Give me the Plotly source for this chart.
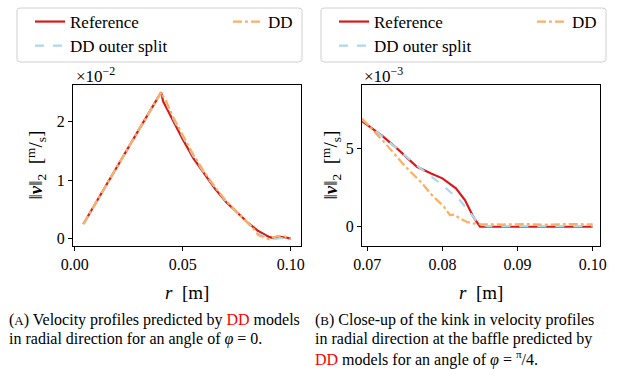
import plotly.graph_objects as go

# ---------------- data (velocity in units shown on axes) ----------------
# Panel A: phi = 0, velocity in 1e-2 m/s
r_ref_a = [0.004, 0.01, 0.02, 0.03, 0.04, 0.0405, 0.041, 0.042, 0.045, 0.05, 0.055, 0.06,
           0.065, 0.07, 0.075, 0.08, 0.085, 0.09, 0.092, 0.095, 0.098, 0.1]
v_ref_a = [0.25, 0.63, 1.25, 1.88, 2.50, 2.42, 2.34, 2.27, 2.05, 1.70, 1.37, 1.10,
           0.85, 0.63, 0.45, 0.28, 0.13, 0.03, 0.01, 0.03, 0.02, 0.0]

r_dd_a = [0.004, 0.01, 0.02, 0.03, 0.04, 0.0405, 0.042, 0.045, 0.05, 0.055, 0.06, 0.065,
          0.07, 0.075, 0.08, 0.083, 0.085, 0.088, 0.09, 0.092, 0.094, 0.097, 0.1]
v_dd_a = [0.25, 0.63, 1.25, 1.88, 2.50, 2.45, 2.38, 2.12, 1.77, 1.43, 1.14, 0.88,
          0.65, 0.46, 0.28, 0.16, 0.06, 0.01, -0.01, 0.02, 0.05, 0.04, 0.0]

r_dds_a = [0.004, 0.01, 0.02, 0.03, 0.04, 0.0405, 0.042, 0.045, 0.05, 0.055, 0.06, 0.065,
           0.07, 0.075, 0.08, 0.083, 0.085, 0.088, 0.09, 0.092, 0.095, 0.1]
v_dds_a = [0.25, 0.63, 1.25, 1.88, 2.49, 2.44, 2.36, 2.10, 1.75, 1.41, 1.12, 0.87,
           0.64, 0.45, 0.28, 0.17, 0.09, 0.03, 0.0, -0.01, 0.01, 0.0]

# Panel B: phi = pi/4, velocity in 1e-3 m/s
r_ref_b = [0.0693, 0.072, 0.0742, 0.0766, 0.0785, 0.080, 0.0818, 0.083, 0.0841, 0.085,
           0.088, 0.092, 0.096, 0.1]
v_ref_b = [6.74, 5.80, 4.89, 3.83, 3.40, 3.09, 2.45, 1.70, 0.64, 0.0,
           0.0, 0.0, 0.0, 0.0]

r_dd_b = [0.0693, 0.0724, 0.0751, 0.0773, 0.0786, 0.0802, 0.0810, 0.0816, 0.0823, 0.0832,
          0.0841, 0.085, 0.088, 0.091, 0.094, 0.097, 0.1]
v_dd_b = [6.91, 5.32, 3.83, 2.77, 2.02, 1.28, 0.74, 0.78, 0.53, 0.32,
          0.21, 0.17, 0.14, 0.17, 0.13, 0.17, 0.15]

r_dds_b = [0.0693, 0.0742, 0.0771, 0.080, 0.0823, 0.0841, 0.0848, 0.086, 0.09, 0.095, 0.1]
v_dds_b = [6.85, 4.89, 3.72, 2.66, 1.70, 0.64, 0.21, 0.03, 0.03, 0.03, 0.03]

ticks_a_x = [0.0, 0.05, 0.10]
ticks_a_y = [0, 1, 2]
ticks_b_x = [0.07, 0.08, 0.09, 0.10]
ticks_b_y = [0, 5]

RED = "#d7191c"
ORANGE = "#fdae61"
BLUE = "#abd9e9"
FONT = "Liberation Serif"
W, H = 618, 369

fig = go.Figure()

def add_panel(xa, ya, legs, r_ref, v_ref, r_dds, v_dds, r_dd, v_dd):
    fig.add_trace(go.Scatter(x=r_ref, y=v_ref, mode="lines", name="Reference",
                             line=dict(color=RED, width=2.2), xaxis=xa, yaxis=ya,
                             legend=legs[0], showlegend=True))
    fig.add_trace(go.Scatter(x=r_dds, y=v_dds, mode="lines", name="DD outer split",
                             line=dict(color=BLUE, width=2.2, dash="dash"), xaxis=xa, yaxis=ya,
                             legend=legs[1], showlegend=True))
    fig.add_trace(go.Scatter(x=r_dd, y=v_dd, mode="lines", name="DD",
                             line=dict(color=ORANGE, width=2.2, dash="dashdot"), xaxis=xa, yaxis=ya,
                             legend=legs[2], showlegend=True))

add_panel("x", "y", ["legend", "legend2", "legend3"],
          r_ref_a, v_ref_a, r_dds_a, v_dds_a, r_dd_a, v_dd_a)
add_panel("x2", "y2", ["legend4", "legend5", "legend6"],
          r_ref_b, v_ref_b, r_dds_b, v_dds_b, r_dd_b, v_dd_b)

ax_common = dict(showline=True, mirror=True, linecolor="black", linewidth=1,
                 ticks="outside", ticklen=4, tickcolor="black", showgrid=False,
                 zeroline=False, automargin=False,
                 tickfont=dict(family=FONT, size=16, color="black"))

ytop, ybot = 1 - 85 / H, 1 - 246 / H
fig.update_layout(
    width=W, height=H, margin=dict(l=0, r=0, t=0, b=0, autoexpand=False),
    paper_bgcolor="white", plot_bgcolor="white", showlegend=True,
    font=dict(family=FONT, color="black"),
    xaxis=dict(domain=[73 / W, 301 / W], range=[-0.0008, 0.1048], tickvals=ticks_a_x,
               tickformat=".2f", anchor="y", **ax_common),
    yaxis=dict(domain=[ybot, ytop], range=[-0.125, 2.625], tickvals=ticks_a_y,
               anchor="x", **ax_common),
    xaxis2=dict(domain=[362 / W, 600 / W], range=[0.0693, 0.10097], tickvals=ticks_b_x,
                tickformat=".2f", anchor="y2", **ax_common),
    yaxis2=dict(domain=[ybot, ytop], range=[-1.23, 9.05], tickvals=ticks_b_y,
                anchor="x2", **ax_common),
)

# one legend per entry, laid out like a 2-column legend
leg_common = dict(orientation="v", yanchor="middle", xanchor="left", visible=True,
                  bgcolor="rgba(0,0,0,0)", borderwidth=0,
                  font=dict(family=FONT, size=17, color="black"))
legend_pos = {"legend": (30, 22), "legend2": (30, 46), "legend3": (228, 22),
              "legend4": (334, 22), "legend5": (334, 46), "legend6": (532, 22)}
fig.update_layout(**{k: dict(x=px / W, y=1 - py / H, **leg_common)
                     for k, (px, py) in legend_pos.items()})

def rounded_box(x0, y0, x1, y1, r=4):
    return (f"M{x0 + r},{y0} L{x1 - r},{y0} Q{x1},{y0} {x1},{y0 + r} "
            f"L{x1},{y1 - r} Q{x1},{y1} {x1 - r},{y1} L{x0 + r},{y1} "
            f"Q{x0},{y1} {x0},{y1 - r} L{x0},{y0 + r} Q{x0},{y0} {x0 + r},{y0} Z")

shapes = []
for bx in (17, 321):
    x0, x1 = bx / W, (bx + 285) / W
    y0, y1 = 1 - 8 / H, 1 - 62 / H
    shapes.append(dict(type="path", xref="paper", yref="paper",
                       path=rounded_box(x0, y1, x1, y0, r=0.006),
                       line=dict(color="#d0d0d0", width=1), layer="below"))

ylab = "‖<b><i>v</i></b>‖<sub>2</sub>  [<sup>m</sup>/<sub>s</sub>]"
xlab = "<i>r</i>  [m]"
ann = []
for xc, ylab_x, exp_x, exp in [((73 + 301) / 2, 36, 74, "−2"),
                                ((362 + 600) / 2, 331, 362, "−3")]:
    ann.append(dict(x=xc / W, y=1 - 292 / H, xref="paper", yref="paper", text=xlab,
                    xanchor="center", yanchor="middle",
                    showarrow=False, font=dict(family=FONT, size=19)))
    ann.append(dict(x=ylab_x / W, y=(ytop + ybot) / 2, xref="paper", yref="paper",
                    xanchor="center", yanchor="middle",
                    text=ylab, textangle=-90, showarrow=False, font=dict(family=FONT, size=19)))
    ann.append(dict(x=exp_x / W, y=1 - 75 / H, xref="paper", yref="paper", xanchor="left",
                    yanchor="middle",
                    text="×10<sup>" + exp + "</sup>", showarrow=False,
                    font=dict(family=FONT, size=17)))

cap_font = dict(family=FONT, size=16, color="black")
DD = "<span style='color:#ff0000'>DD</span>"
capA = ["(<span style='font-size:13px'>A</span>) Velocity profiles predicted by " + DD + " models",
        "in radial direction for an angle of <i>φ</i> = 0."]
capB = ["(<span style='font-size:13px'>B</span>) Close-up of the kink in velocity profiles",
        "in radial direction at the baffle predicted by",
        DD + " models for an angle of <i>φ</i> = <sup>π</sup>/4."]
for i, line in enumerate(capA):
    ann.append(dict(x=7 / W, y=1 - (320 + 19 * i) / H, xref="paper", yref="paper",
                    xanchor="left", yanchor="middle", text=line, showarrow=False, font=cap_font))
for i, line in enumerate(capB):
    ann.append(dict(x=313 / W, y=1 - (320 + 19 * i) / H, xref="paper", yref="paper",
                    xanchor="left", yanchor="middle", text=line, showarrow=False, font=cap_font))
fig.update_layout(annotations=ann, shapes=shapes)

fig.write_html("out.html", config={"displayModeBar": False},
               post_script="document.body.style.margin='0px';")
